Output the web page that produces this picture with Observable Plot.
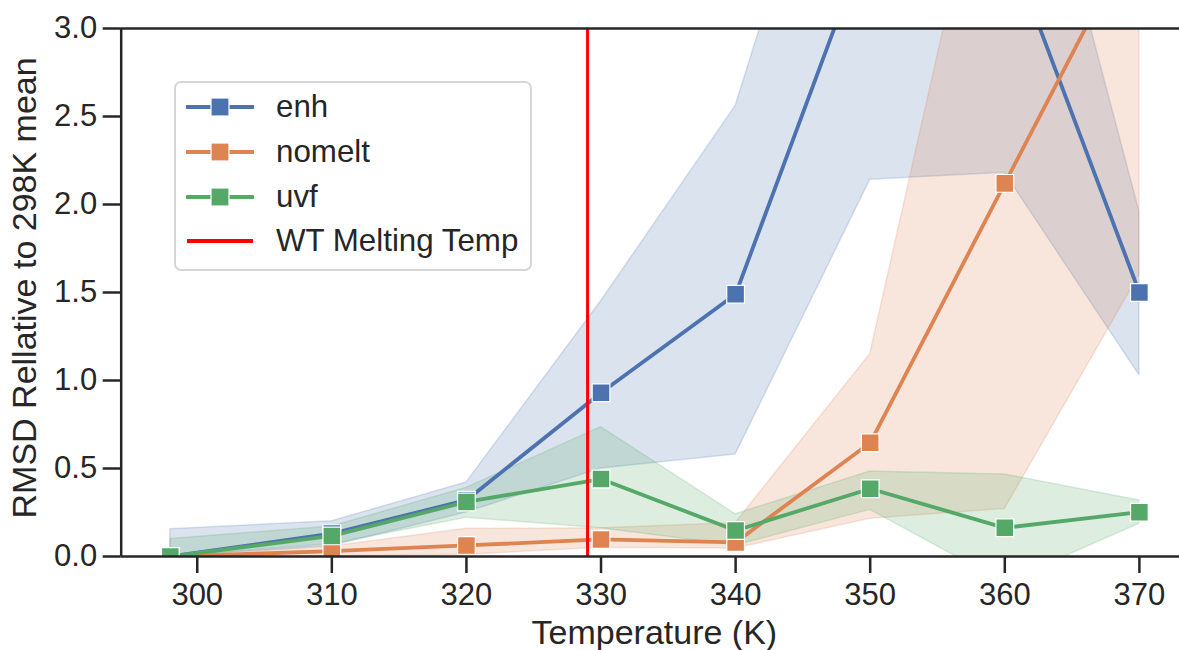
<!DOCTYPE html>
<html>
<head>
<meta charset="utf-8">
<script src="https://cdn.jsdelivr.net/npm/d3@7"></script>
<script src="https://cdn.jsdelivr.net/npm/@observablehq/plot@0.6"></script>
<style>
  html, body { margin: 0; padding: 0; background: #fff; }
  #wrap { position: relative; width: 1179px; height: 650px; overflow: hidden; font-family: "Liberation Sans", Arial, sans-serif; color: #262626; }
  #legend { position: absolute; left: 174px; top: 81px; width: 354px; height: 186px; border: 2px solid #d6d6d6; border-radius: 7px; background: rgba(255,255,255,0.8); }
  .lrow { position: absolute; left: 0; height: 40px; display: flex; align-items: center; }
  .lrow svg { margin-left: 10px; }
  .lrow span { position: absolute; left: 100px; font-size: 31.3px; line-height: 40px; white-space: nowrap; color: #262626; }
</style>
</head>
<body>
<div id="wrap"><div id="legend"></div></div>
<script>
// ---- data ----
const temps = [298, 310, 320, 330, 340, 350, 360, 370];
const seriesNames = ["enh", "nomelt", "uvf"];
const seriesColors = ["#4C72B0", "#DD8452", "#55A868"];

const enhMean = [0.0, 0.13, 0.32, 0.93, 1.49, 3.55, 3.53, 1.50];
const enhLow  = [0.0, 0.06, 0.25, 0.50, 0.58, 2.14, 2.18, 1.03];
const enhHigh = [0.155, 0.20, 0.42, 1.45, 2.56, 5.0, 4.85, 1.96];

const nomeltMean = [0.0, 0.03, 0.063, 0.097, 0.08, 0.646, 2.12, 3.59];
const nomeltLow  = [0.0, 0.0, 0.01, 0.05, 0.045, 0.215, 0.27, 1.6];
const nomeltHigh = [0.0, 0.057, 0.157, 0.16, 0.19, 1.15, 4.54, 5.6];

const uvfMean = [0.0, 0.117, 0.31, 0.44, 0.148, 0.385, 0.163, 0.252];
const uvfLow  = [0.0, 0.07, 0.22, 0.16, 0.062, 0.265, -0.15, 0.186];
const uvfHigh = [0.10, 0.17, 0.39, 0.735, 0.24, 0.483, 0.466, 0.318];

const meltTemp = 329;
const meltLabel = "WT Melting Temp";
const meltColor = "#FF0000";

const xTicks = [300, 310, 320, 330, 340, 350, 360, 370];
const yTicks = [0, 0.5, 1.0, 1.5, 2.0, 2.5, 3.0];
const xDomain = [294.35, 372.98];
const yDomain = [0, 3];
const xLabel = "Temperature (K)";
const yLabel = "RMSD Rellative to 298K mean";

// ---- build tables ----
const seriesData = {
  enh: [enhMean, enhLow, enhHigh],
  nomelt: [nomeltMean, nomeltLow, nomeltHigh],
  uvf: [uvfMean, uvfLow, uvfHigh]
};
const rows = seriesNames.flatMap(s => temps.map((T, i) => ({
  series: s, T, mean: seriesData[s][0][i], lo: seriesData[s][1][i], hi: seriesData[s][2][i]
})));
const colorOf = s => seriesColors[seriesNames.indexOf(s)];
const ink = "#262626";

const bands = seriesNames.map(s => Plot.areaY(rows.filter(r => r.series === s), {
  x: "T", y1: "lo", y2: "hi", fill: colorOf(s), fillOpacity: 0.2,
  stroke: colorOf(s), strokeOpacity: 0.2, strokeWidth: 1.5, clip: true
}));
const linesAndDots = seriesNames.flatMap(s => [
  Plot.line(rows.filter(r => r.series === s), {x: "T", y: "mean", stroke: colorOf(s), strokeWidth: 3.8, clip: true}),
  Plot.dot(rows.filter(r => r.series === s), {x: "T", y: "mean", symbol: "square", r: 10, fill: colorOf(s), stroke: "white", strokeWidth: 1.2, clip: true})
]);

const chart = Plot.plot({
  width: 1179, height: 650,
  marginLeft: 120.7, marginRight: 0, marginTop: 28, marginBottom: 94,
  x: {type: "linear", domain: xDomain},
  y: {type: "linear", domain: yDomain},
  style: {fontFamily: "'Liberation Sans', Arial, sans-serif", color: ink, background: "white", overflow: "visible"},
  marks: [
    ...bands,
    ...linesAndDots,
    Plot.ruleX([meltTemp], {stroke: meltColor, strokeWidth: 3}),
    Plot.ruleY([yDomain[0]], {stroke: ink, strokeWidth: 2.5}),
    Plot.ruleY([yDomain[1]], {stroke: ink, strokeWidth: 2.5}),
    Plot.ruleX([xDomain[0]], {stroke: ink, strokeWidth: 2.5}),
    Plot.axisX({ticks: xTicks, tickSize: 17, tickPadding: 9, fontSize: 31, label: null, strokeWidth: 2.5, stroke: ink, fill: ink, tickFormat: d => String(d)}),
    Plot.axisY({ticks: yTicks, tickSize: 18, tickPadding: 6, fontSize: 31, label: null, strokeWidth: 2.5, stroke: ink, fill: ink, tickFormat: d => d.toFixed(1)}),
    Plot.text([xLabel], {text: d => d, frameAnchor: "bottom", dx: 4, dy: 87, lineAnchor: "bottom", fontSize: 34, fill: ink}),
    Plot.text([yLabel], {text: d => d, frameAnchor: "left", textAnchor: "middle", rotate: -90, dx: -85.2, dy: -4.6, lineAnchor: "bottom", fontSize: 34, fill: ink})
  ]
});
document.getElementById("wrap").prepend(chart);

// ---- legend (HTML overlay) ----
const legend = d3.select("#legend");
const legendItems = seriesNames.map(s => ({label: s, color: colorOf(s), marker: true}))
  .concat([{label: meltLabel, color: meltColor, marker: false}]);
legendItems.forEach((item, i) => {
  const row = legend.append("div").attr("class", "lrow").style("top", (4 + i * 44.8) + "px");
  const sw = row.append("svg").attr("width", 68).attr("height", 40);
  sw.append("line").attr("x1", 1).attr("x2", 67).attr("y1", 20).attr("y2", 20)
    .attr("stroke", item.color).attr("stroke-width", 4).attr("stroke-linecap", item.marker ? "round" : "butt");
  if (item.marker) {
    sw.append("rect").attr("x", 34 - 9).attr("y", 20 - 9).attr("width", 18).attr("height", 18)
      .attr("fill", item.color).attr("stroke", "white").attr("stroke-width", 1.2);
  }
  row.append("span").text(item.label);
});
</script>
</body>
</html>
